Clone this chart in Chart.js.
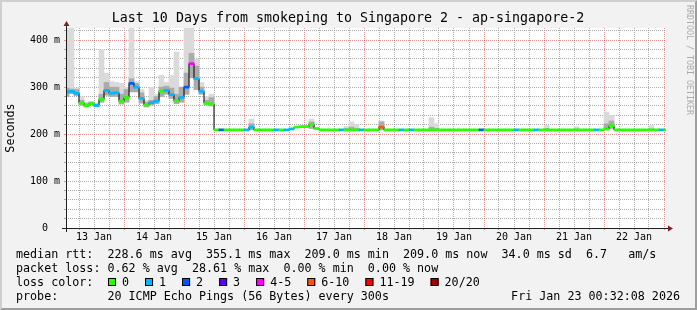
<!DOCTYPE html>
<html>
<head>
<meta charset="utf-8">
<script src="https://cdn.jsdelivr.net/npm/chart.js@4.4.1/dist/chart.umd.min.js"></script>
<style>
  html, body { margin: 0; padding: 0; background: #f2f2f2; }
  canvas { display: block; }
</style>
</head>
<body>
<canvas id="chart" width="697" height="310"></canvas>
<script>
// ---- data: 2-hour bins counted from 13 Jan 00:00 --------------------------
const binHours = 2;
const medianMs = [
  290, 291, 287, 266, 261, 265, 261, 274, 293, 287,
  288, 270, 278, 308, 300, 276, 262, 267, 270, 291,
  293, 284, 271, 278, 300, 350, 318, 291, 266, 264,
  209, 209, 209, 209, 209, 209, 209, 215, 209, 209,
  209, 209, 209, 209, 209, 211, 215, 216, 216, 221,
  212, 209, 209, 209, 209, 209, 209, 209, 209, 209,
  209, 209, 209, 215, 209, 209, 209, 209, 209, 209,
  209, 209, 209, 209, 209, 209, 209, 209, 209, 209,
  209, 209, 209, 209, 209, 209, 209, 209, 209, 209,
  209, 209, 209, 209, 209, 209, 209, 209, 209, 209,
  209, 209, 209, 209, 209, 209, 209, 209, 211, 218,
  209, 209, 209, 209, 209, 209, 209, 209, 209, 209,
  209
];
// lost pings (of 20) per bin
const lossPings = [
  1, 1, 1, 0, 0, 0, 1, 0, 1, 1,
  1, 0, 0, 2, 1, 1, 0, 1, 1, 0,
  1, 1, 0, 1, 2, 5, 1, 1, 0, 0,
  0, 2, 0, 0, 0, 0, 1, 1, 0, 0,
  0, 0, 1, 0, 1, 1, 0, 0, 0, 0,
  0, 0, 0, 0, 0, 1, 0, 0, 0, 1,
  0, 0, 0, 7, 0, 0, 0, 1, 0, 1,
  0, 0, 0, 0, 0, 0, 0, 0, 0, 0,
  0, 0, 0, 2, 0, 0, 0, 0, 0, 0,
  1, 0, 0, 0, 1, 0, 0, 0, 0, 0,
  0, 0, 0, 0, 0, 0, 1, 0, 0, 0,
  0, 0, 0, 0, 0, 0, 0, 0, 0, 1,
  0
];
// smoke (spread of the 20 pings) where there is any
const smokeBin = [
  0, 1, 2, 3, 4, 5, 6, 7, 8, 9, 10, 11, 12, 13, 14, 15, 16, 17, 18, 19,
  20, 21, 22, 23, 24, 25, 26, 27, 28, 29,
  37, 49, 56, 57, 58, 63, 73, 74, 96, 102, 108, 109, 117
];
const smokeMin = [
  280, 286, 282, 262, 258, 262, 258, 268, 283, 280, 280, 264, 268, 290, 290, 266, 258, 262, 265, 280,
  285, 276, 265, 268, 285, 320, 295, 285, 262, 260,
  209, 212, 209, 209, 209, 209, 209, 209, 209, 209, 209, 212, 209
];
const smokeHi = [
  298, 296, 295, 272, 265, 268, 264, 285, 310, 300, 300, 285, 295, 318, 308, 288, 268, 272, 280, 300,
  302, 298, 285, 300, 330, 372, 345, 300, 272, 278,
  222, 226, 212, 215, 212, 226, 215, 212, 212, 211, 222, 228, 211
];
const smokeMax = [
  430, 430, 298, 280, 268, 270, 266, 380, 330, 312, 310, 308, 300, 430, 312, 295, 272, 300, 285, 325,
  310, 325, 375, 300, 430, 430, 360, 310, 280, 285,
  232, 232, 216, 226, 220, 228, 235, 222, 219, 216, 247, 240, 218
];

const dayLabels = ["13 Jan", "14 Jan", "15 Jan", "16 Jan", "17 Jan", "18 Jan", "19 Jan", "20 Jan", "21 Jan", "22 Jan"];
const yTickLabels = ["0  ", "100 m", "200 m", "300 m", "400 m"];
const lossLabels = ["0", "1", "2", "3", "4-5", "6-10", "11-19", "20/20"];
const lossUpTo = [0, 1, 2, 3, 5, 10, 19, 20];
const lossColors = ["#26ff00", "#00b8ff", "#0059ff", "#5e00ff", "#ff00ff", "#ff5500", "#ff0000", "#a10000"];

const titleText = "Last 10 Days from smokeping to Singapore 2 - ap-singapore-2";
const rttLine = "median rtt:  228.6 ms avg  355.1 ms max  209.0 ms min  209.0 ms now  34.0 ms sd  6.7   am/s";
const lossLine = "packet loss: 0.62 % avg  28.61 % max  0.00 % min  0.00 % now";
const probeLine = "probe:       20 ICMP Echo Pings (56 Bytes) every 300s";
const stampText = "Fri Jan 23 00:32:08 2026";

// ---- rrdtool look ---------------------------------------------------------
const BACK = "#f2f2f2", SHADEA = "#cfcfcf", SHADEB = "#9e9e9e";
const GRID = "rgba(143,143,143,0.75)", MGRID = "rgba(222,80,80,0.6)";
const AXIS = "#1f1f1f", ARROW = "#801f1f";
const MONO = '"DejaVu Sans Mono", monospace';

function lossColor(n) {
  const k = lossUpTo.findIndex((u) => n <= u);
  return lossColors[k < 0 ? lossColors.length - 1 : k];
}

const xGridHours = [];
for (let d = 0; d <= dayLabels.length; d++) {
  [0, 6, 12, 18].forEach((h) => { if (d * 24 + h > 0 && d * 24 + h <= 240) xGridHours.push(d * 24 + h); });
}
const yGridMs = [];
for (let v = 0; v <= 420; v += 20) yGridMs.push(v);

const mid = (i) => i * binHours + binHours / 2;
const lineData = medianMs.map((v, i) => ({ x: i * binHours, y: v }));
lineData.push({ x: medianMs.length * binHours, y: medianMs[medianMs.length - 1] });

const rrdFrame = {
  id: "rrdFrame",
  beforeDraw(chart) {
    const { ctx, width: W, height: H, chartArea: a } = chart;
    ctx.save();
    ctx.fillStyle = BACK;
    ctx.fillRect(0, 0, W, H);
    ctx.fillStyle = SHADEA;
    ctx.beginPath();
    ctx.moveTo(0, H); ctx.lineTo(2, H - 2); ctx.lineTo(2, 2); ctx.lineTo(W - 2, 2); ctx.lineTo(W, 0); ctx.lineTo(0, 0);
    ctx.closePath(); ctx.fill();
    ctx.fillStyle = SHADEB;
    ctx.beginPath();
    ctx.moveTo(2, H - 2); ctx.lineTo(W - 2, H - 2); ctx.lineTo(W - 2, 2); ctx.lineTo(W, 0); ctx.lineTo(W, H); ctx.lineTo(0, H);
    ctx.closePath(); ctx.fill();
    ctx.fillStyle = "#ffffff";
    ctx.fillRect(a.left, a.top, a.width, a.height);
    ctx.restore();
  },
  afterDraw(chart) {
    const { ctx, chartArea: a } = chart;
    ctx.save();
    // title, centred on the whole image like rrdtool does
    ctx.font = "13.3px " + MONO;
    ctx.fillStyle = "#000";
    ctx.textAlign = "center";
    ctx.textBaseline = "middle";
    ctx.fillText(titleText, 348, 19);

    // axes with arrows
    const x0 = a.left + 0.5, y0 = a.bottom + 0.5;
    ctx.strokeStyle = AXIS;
    ctx.lineWidth = 1;
    ctx.beginPath();
    ctx.moveTo(a.left - 4, y0); ctx.lineTo(a.right + 4, y0);
    ctx.moveTo(x0, a.bottom + 4); ctx.lineTo(x0, a.top - 4);
    ctx.stroke();
    ctx.fillStyle = ARROW;
    ctx.beginPath();
    ctx.moveTo(a.right + 2, y0 - 3); ctx.lineTo(a.right + 2, y0 + 3); ctx.lineTo(a.right + 7, y0);
    ctx.closePath(); ctx.fill();
    ctx.beginPath();
    ctx.moveTo(x0 - 3, a.top - 2); ctx.lineTo(x0 + 3, a.top - 2); ctx.lineTo(x0, a.top - 7);
    ctx.closePath(); ctx.fill();

    // legend block
    ctx.font = "11.7px " + MONO;
    ctx.fillStyle = "#000";
    ctx.textBaseline = "middle";
    ctx.textAlign = "left";
    ctx.fillText(rttLine, 16, 254.5);
    ctx.fillText(lossLine, 16, 268.5);
    ctx.fillText("loss color:", 16, 282.5);
    ctx.fillText(probeLine, 16, 296.5);
    let bx = 108;
    lossLabels.forEach((lab, k) => {
      ctx.fillStyle = lossColors[k];
      ctx.fillRect(bx, 278, 8, 8);
      ctx.strokeStyle = "#000";
      ctx.strokeRect(bx + 0.5, 278.5, 7, 7);
      ctx.fillStyle = "#000";
      ctx.fillText(lab, bx + 14, 282.5);
      bx += 14 + ctx.measureText(lab).width + 16;
    });
    ctx.textAlign = "right";
    ctx.fillText(stampText, 680, 296.5);

    // watermark
    ctx.font = "8.3px " + MONO;
    ctx.fillStyle = "#ababab";
    ctx.textAlign = "left";
    ctx.translate(685, 5);
    ctx.rotate(Math.PI / 2);
    ctx.textBaseline = "bottom";
    ctx.fillText("RRDTOOL / TOBI OETIKER", 0, 0);
    ctx.restore();
  },
};

const barCommon = { type: "bar", grouped: false, barPercentage: 1, categoryPercentage: 1, borderWidth: 0 };

new Chart(document.getElementById("chart"), {
  type: "bar",
  data: {
    datasets: [
      {
        ...barCommon,
        order: 5,
        backgroundColor: "#dadada",
        data: smokeBin.map((b, k) => ({ x: mid(b), y: [smokeMin[k], smokeMax[k]] })),
      },
      {
        ...barCommon,
        order: 4,
        backgroundColor: "#ababab",
        data: smokeBin.map((b, k) => ({ x: mid(b), y: [smokeMin[k], smokeHi[k]] })),
      },
      {
        type: "line",
        order: 2,
        data: lineData,
        stepped: true,
        borderColor: "#000",
        borderWidth: 1,
        pointRadius: 0,
        fill: false,
      },
      {
        ...barCommon,
        order: 1,
        backgroundColor: lossPings.map(lossColor),
        data: medianMs.map((v, i) => ({ x: mid(i), y: [v - 2.2, v + 2.2] })),
      },
    ],
  },
  options: {
    responsive: false,
    devicePixelRatio: 1,
    animation: false,
    events: [],
    layout: { padding: { left: 0, right: 31, top: 28, bottom: 62 } },
    plugins: {
      legend: { display: false },
      tooltip: { enabled: false },
      title: { display: false },
    },
    scales: {
      x: {
        type: "linear",
        min: 0.8,
        max: 240.8,
        offset: false,
        afterBuildTicks: (s) => { s.ticks = xGridHours.map((v) => ({ value: v })); },
        afterFit: (s) => { s.height = 20; },
        ticks: {
          autoSkip: false,
          maxRotation: 0,
          minRotation: 0,
          padding: 1,
          color: "#000",
          font: { family: MONO, size: 10 },
          callback: (v) => (v % 24 === 12 ? dayLabels[Math.floor(v / 24)] : ""),
        },
        grid: {
          offset: false,
          color: (c) => (c.tick && c.tick.value % 24 === 0 ? MGRID : GRID),
          lineWidth: 1,
          drawTicks: true,
          tickLength: 2,
        },
        border: { display: false, dash: [1, 1] },
      },
      y: {
        type: "linear",
        min: 0,
        max: 426,
        afterBuildTicks: (s) => { s.ticks = yGridMs.map((v) => ({ value: v })); },
        afterFit: (s) => { s.width = 66; },
        ticks: {
          autoSkip: false,
          padding: 4,
          color: "#000",
          font: { family: MONO, size: 10 },
          callback: (v) => (v % 100 === 0 ? yTickLabels[v / 100] : ""),
        },
        grid: {
          color: (c) => (c.tick && c.tick.value % 100 === 0 ? MGRID : GRID),
          lineWidth: 1,
          drawTicks: true,
          tickLength: 2,
        },
        border: { display: false, dash: [1, 1] },
        title: {
          display: true,
          text: "Seconds",
          color: "#000",
          font: { family: MONO, size: 11.7 },
          padding: { top: 4, bottom: 0 },
        },
      },
    },
  },
  plugins: [rrdFrame],
});
</script>
</body>
</html>
